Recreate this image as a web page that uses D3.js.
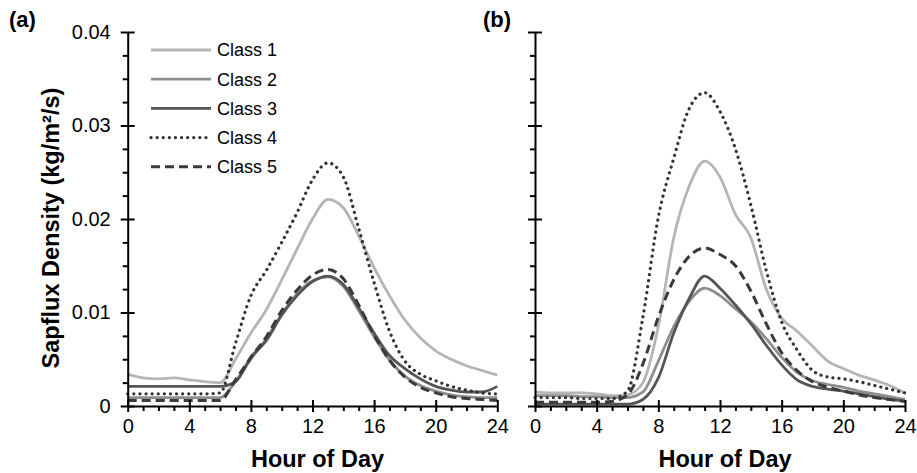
<!DOCTYPE html>
<html>
<head>
<meta charset="utf-8">
<script src="https://cdn.jsdelivr.net/npm/d3@7"></script>
<style>
  html, body { margin: 0; padding: 0; background: #fff; }
  svg { display: block; }
  text { font-family: Arial, "Liberation Sans", sans-serif; }
</style>
</head>
<body>
<div id="chart"></div>
<script>
// ---------------- DATA ----------------
const hours = d3.range(0, 25); // 0..24
const classNames = ["Class 1", "Class 2", "Class 3", "Class 4", "Class 5"];
const xTickValues = [0, 4, 8, 12, 16, 20, 24];
const yTickValues = [0, 0.01, 0.02, 0.03, 0.04];

// Panel (a) values in units of 0.001 kg/m2/s
const a_class1 = [3.4,3.0,2.9,3.0,2.8,2.6,2.5,5.0,7.8,10.3,13.5,16.8,20.0,22.1,21.2,18.2,14.8,11.8,9.2,7.3,5.9,5.0,4.3,3.8,3.3];
const a_class2 = [0.9,0.9,0.9,0.9,0.9,0.9,0.9,2.6,5.0,7.2,9.8,12.0,13.4,13.8,12.8,10.2,7.4,4.9,3.2,2.2,1.6,1.2,1.0,0.9,0.9];
const a_class3 = [2.1,2.1,2.1,2.1,2.1,2.1,2.1,2.6,5.2,7.0,9.7,11.8,13.3,13.9,13.0,10.5,7.8,5.4,4.0,2.9,2.1,1.7,1.5,1.5,2.1];
const a_class4 = [1.3,1.3,1.3,1.3,1.3,1.3,1.4,6.7,11.8,14.5,17.5,20.7,24.2,26.0,24.5,19.0,13.2,8.0,4.8,3.4,2.7,2.1,1.7,1.4,1.3];
const a_class5 = [0.6,0.6,0.6,0.6,0.6,0.6,0.6,2.8,5.2,7.4,10.2,12.4,14.0,14.6,13.6,10.8,7.6,4.9,3.1,2.0,1.4,1.0,0.8,0.7,0.6];

// Panel (b)
const b_class1 = [1.5,1.4,1.4,1.4,1.3,1.1,1.2,2.5,8.5,18.0,23.5,26.2,24.5,20.5,18.0,12.5,9.4,8.0,6.4,4.8,4.0,3.3,2.8,2.2,1.4];
const b_class2 = [1.1,1.1,1.1,1.0,1.0,0.9,0.9,1.5,4.8,8.5,11.2,12.6,11.8,10.4,9.0,7.2,5.2,3.6,2.7,2.3,2.0,1.6,1.3,1.0,0.7];
const b_class3 = [0.2,0.2,0.2,0.2,0.2,0.2,0.2,0.7,3.0,7.8,11.5,13.9,12.6,10.8,8.8,6.5,4.4,2.8,2.1,1.8,1.6,1.3,1.0,0.7,0.5];
const b_class4 = [0.9,0.9,0.9,0.8,0.8,0.8,1.6,9.5,20.2,26.5,31.8,33.5,31.5,27.5,21.5,14.5,9.0,6.0,3.8,3.1,2.9,2.6,2.2,1.8,1.4];
const b_class5 = [0.4,0.4,0.4,0.4,0.4,0.5,1.2,4.5,9.5,13.5,16.0,16.9,16.2,15.0,12.3,8.8,5.7,3.8,2.6,2.0,1.6,1.2,0.9,0.7,0.5];

const panelA = [a_class1, a_class2, a_class3, a_class4, a_class5];
const panelB = [b_class1, b_class2, b_class3, b_class4, b_class5];

// ---------------- STYLES ----------------
const styles = [
  { color: "#b5b5b5", width: 2.8, dash: null, cap: "butt" },
  { color: "#8e8e8e", width: 2.8, dash: null, cap: "butt" },
  { color: "#555555", width: 2.8, dash: null, cap: "butt" },
  { color: "#333333", width: 3.2, dash: "0.1 6", cap: "round" },
  { color: "#3a3a3a", width: 3.0, dash: "9 5", cap: "butt" }
];

const W = 917, H = 473;
const svg = d3.select("#chart").append("svg").attr("width", W).attr("height", H);

const yScale = d3.scaleLinear().domain([0, 0.04]).range([406, 32]);

function drawPanel(x0, x1, series, showYLabels, letter, letterX) {
  const xScale = d3.scaleLinear().domain([0, 24]).range([x0, x1]);
  const g = svg.append("g");

  const line = d3.line()
    .x((d, i) => xScale(hours[i]))
    .y(d => yScale(d / 1000))
    .curve(d3.curveMonotoneX);
  [0, 1, 2, 4, 3].forEach(k => {
    const s = styles[k];
    g.append("path")
      .datum(series[k])
      .attr("d", line)
      .attr("fill", "none")
      .attr("stroke", s.color)
      .attr("stroke-width", s.width)
      .attr("stroke-dasharray", s.dash)
      .attr("stroke-linecap", s.cap)
      .attr("stroke-linejoin", "round");
  });

  // y axis
  const yMinor = d3.range(0, 0.04001, 0.0025).filter(v => Math.abs(Math.round(v * 100) - v * 100) > 1e-6);
  const yAxG = g.append("g").attr("transform", `translate(${x0},0)`);
  yAxG.call(d3.axisLeft(yScale).tickValues(yTickValues).tickSize(7).tickSizeOuter(0)
      .tickFormat(showYLabels ? (v => v === 0 ? "0" : d3.format(".2f")(v)) : ""));
  yAxG.selectAll(".tick text").attr("font-size", 20).attr("fill", "#000")
      .attr("x", -17).attr("font-family", "Arial, 'Liberation Sans', sans-serif");
  const yIn = g.append("g").attr("transform", `translate(${x0},0)`)
    .call(d3.axisRight(yScale).tickValues(yTickValues).tickSize(7).tickSizeOuter(0).tickFormat(""));
  yIn.select(".domain").remove();
  const yMin = g.append("g").attr("transform", `translate(${x0},0)`)
    .call(d3.axisLeft(yScale).tickValues(yMinor).tickSize(5).tickSizeOuter(0).tickFormat(""));
  yMin.select(".domain").remove();

  // x axis
  const xMinor = hours.filter(h => h % 4 !== 0);
  const xAxG = g.append("g").attr("transform", `translate(0,${yScale(0)})`);
  xAxG.call(d3.axisBottom(xScale).tickValues(xTickValues).tickSize(6).tickSizeOuter(0).tickFormat(d3.format("d")));
  xAxG.selectAll(".tick text").attr("font-size", 20).attr("fill", "#000").attr("y", 13)
      .attr("font-family", "Arial, 'Liberation Sans', sans-serif");
  const xUp = g.append("g").attr("transform", `translate(0,${yScale(0)})`)
    .call(d3.axisTop(xScale).tickValues(xTickValues).tickSize(6).tickSizeOuter(0).tickFormat(""));
  xUp.select(".domain").remove();
  const xMin = g.append("g").attr("transform", `translate(0,${yScale(0)})`)
    .call(d3.axisBottom(xScale).tickValues(xMinor).tickSize(5).tickSizeOuter(0).tickFormat(""));
  xMin.select(".domain").remove();

  g.selectAll(".domain, .tick line").attr("stroke", "#000").attr("stroke-width", 2);

  // x title
  g.append("text")
    .attr("x", (x0 + x1) / 2 + 5).attr("y", 467)
    .attr("text-anchor", "middle")
    .attr("font-size", 23.5).attr("font-weight", "bold").attr("fill", "#000")
    .text("Hour of Day");

  // panel letter
  g.append("text")
    .attr("x", letterX).attr("y", 27)
    .attr("font-size", 22).attr("font-weight", "bold").attr("fill", "#000")
    .text(letter);
}

drawPanel(127.7, 497.3, panelA, true, "(a)", 9);
drawPanel(535, 905, panelB, false, "(b)", 483);

// y title
svg.append("text")
  .attr("transform", `translate(59,228) rotate(-90)`)
  .attr("text-anchor", "middle")
  .attr("font-size", 23.5).attr("font-weight", "bold").attr("fill", "#000")
  .text("Sapflux Density (kg/m²/s)");

// legend
const legend = svg.append("g");
classNames.forEach((name, k) => {
  const y = 50 + k * 29.2;
  const s = styles[k];
  legend.append("line")
    .attr("x1", 151).attr("x2", 211).attr("y1", y).attr("y2", y)
    .attr("stroke", s.color).attr("stroke-width", s.width)
    .attr("stroke-dasharray", s.dash).attr("stroke-linecap", s.cap);
  legend.append("text")
    .attr("x", 217).attr("y", y).attr("dy", "0.35em")
    .attr("font-size", 18).attr("fill", "#000")
    .text(name);
});
</script>
</body>
</html>
